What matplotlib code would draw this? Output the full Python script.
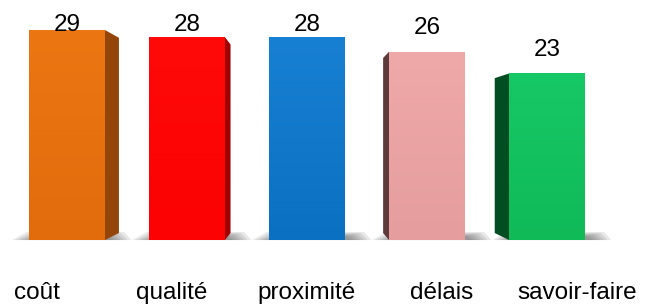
import matplotlib
matplotlib.use("Agg")
import matplotlib.pyplot as plt
import numpy as np
from matplotlib.patches import Polygon

# data
categories = ['coût', 'qualité', 'proximité', 'délais', 'savoir-faire']
values = [29, 28, 28, 26, 23]
front_top = ['#EC7612', '#FF0909', '#1880D2', '#F0A9A9', '#17C866']
front_bottom = ['#E26C0C', '#FC0202', '#0A70C2', '#E59D9D', '#0FBA57']
side_colors = ['#93450A', '#A00000', '#3F86C8', '#5E3B3B', '#024D22']

plt.rcParams['font.family'] = ['Liberation Sans', 'DejaVu Sans']

fig = plt.figure(figsize=(6.5, 3.07), dpi=100)
ax = fig.add_axes([0, 0, 1, 1])
ax.set_xlim(-0.558, 4.858)
ax.set_ylim(-9.25, 33.15)
ax.axis('off')

width = 0.633
vp = (1.98, 13.8)   # vanishing point of the fake 3d
depth = 0.07


def to_back(x, y):
    return vp[0] + (x - vp[0]) * (1 - depth), vp[1] + (y - vp[1]) * (1 - depth)


grad = np.linspace(0, 1, 100).reshape(-1, 1)

for i, (cat, v) in enumerate(zip(categories, values)):
    left, right = i - width / 2, i + width / 2

    # soft floor shadow
    for k in range(6):
        s = k * 0.03
        shadow = Polygon([(left - 0.14 + s, 0), (right + 0.22 - s, 0),
                          (right + 0.16 - s, 1.1 - k * 0.12), (left - 0.02 + s, 1.1 - k * 0.12)],
                         closed=True, facecolor='#444444', edgecolor='none', alpha=0.12, zorder=1)
        ax.add_patch(shadow)

    # visible side face
    if i < vp[0] - 0.5:
        ex = right
    elif i > vp[0] + 0.5:
        ex = left
    else:
        ex = None
    if ex is not None:
        bx1, by1 = to_back(ex, v)
        bx0, by0 = to_back(ex, 0)
        side = Polygon([(ex, 0), (ex, v), (bx1, by1), (bx0, by0)], closed=True,
                       facecolor=side_colors[i], edgecolor='none', zorder=2)
        ax.add_patch(side)

    # front face with a light vertical gradient
    c0 = np.array(matplotlib.colors.to_rgb(front_top[i]))
    c1 = np.array(matplotlib.colors.to_rgb(front_bottom[i]))
    img = c0 + (c1 - c0) * grad[:, :, None]
    front = Polygon([(left, 0), (right, 0), (right, v), (left, v)], closed=True,
                    facecolor='none', edgecolor='none')
    ax.add_patch(front)
    im = ax.imshow(img, extent=(left, right, 0, v), origin='upper', aspect='auto', zorder=3)
    im.set_clip_path(front)

    # value label, kept inside the top of the plot
    ax.text(i, min(v + 3.3, 29.7), str(v), ha='center', va='center',
            fontsize=17.5, color='black', zorder=5)

    # category label, spread a bit for the perspective
    ax.text(i + 0.125 * (i - 2), -7.3, cat, ha='center', va='center',
            fontsize=17.5, color='black')

fig.savefig('out.png', dpi=100)
